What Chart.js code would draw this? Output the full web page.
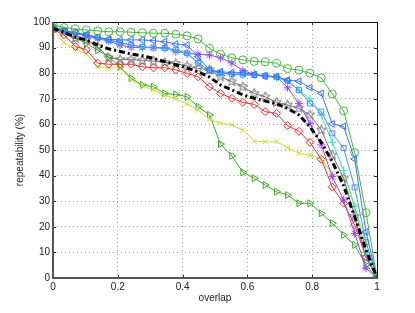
<!DOCTYPE html>
<html>
<head>
<meta charset="utf-8">
<script src="https://cdn.jsdelivr.net/npm/chart.js@4.4.1/dist/chart.umd.min.js"></script>
<style>
  body { margin: 0; background: #fff; }
  canvas { display: block; }
</style>
</head>
<body>
<canvas id="chart" width="415" height="313"></canvas>
<script>
// overlap thresholds (x) and repeatability (%) per detector
const overlap = [0, 0.034, 0.069, 0.103, 0.138, 0.172, 0.207, 0.241, 0.276, 0.310,
  0.345, 0.379, 0.414, 0.448, 0.483, 0.517, 0.552, 0.586, 0.621, 0.655,
  0.690, 0.724, 0.759, 0.793, 0.828, 0.862, 0.897, 0.931, 0.966, 1];

const avgLine = [97.5, 96, 94, 93, 91, 89.5, 88.5, 87.5, 86.8, 85.8, 84.5, 83.3, 82, 80.5, 78.5,
  75.4, 73.5, 71.5, 70.2, 69.1, 68, 66.3, 63.7, 59, 53, 45.5, 36, 24, 11, 0];
const greenCircle = [99, 97.8, 97.3, 96.9, 96.5, 96.2, 96.2, 96, 95.8, 95.6, 95.6, 95.2, 94.6, 93.4, 89.7,
  87.5, 86, 85.2, 84.6, 84.4, 83.9, 81.8, 81.2, 80, 78.2, 71.9, 65.3, 49, 25.5, 0];
const blueTri = [98, 96.5, 95.8, 95, 94, 93.2, 93, 93, 93, 92.7, 92.3, 91.4, 91, 86.4, 81.2,
  80.6, 80.2, 80.2, 79.5, 78.9, 78.6, 77.3, 76.9, 74.4, 72.1, 60.2, 59.2, 46.5, 18, 0];
const blueSquare = [97.5, 96.5, 96, 95, 94, 93, 92, 91, 90.3, 90, 89.8, 89.2, 87.8, 84, 81,
  80.2, 79.6, 79.5, 79.3, 79, 78.6, 77, 73.4, 68.2, 65, 56.5, 50.7, 35.4, 14, 0];
const cyanPlus = [97.5, 96.5, 95.8, 95, 93.8, 92.8, 91.8, 91, 90.2, 90, 89.6, 89, 87.5, 84, 81,
  80, 79.5, 79.3, 79.2, 78.8, 78.3, 76.8, 73.4, 70, 63.5, 53, 42, 28, 10, 0];
const purpleStar = [97.5, 96.5, 95.5, 94.5, 93.5, 92.5, 91, 90.1, 90, 90, 90, 88.4, 87.8, 87.4, 87.1,
  86, 84, 81, 79.6, 78.9, 78.6, 74.3, 68.2, 60.4, 52, 39.6, 30.5, 17.4, 3.8, 0];
const grayPenta = [97.5, 96, 93.6, 93, 90.4, 86, 85.4, 85.3, 85, 84.7, 84.2, 83.8, 82.8, 81.9, 81.3,
  78.6, 76.7, 74.7, 72.1, 70.8, 68.6, 67.6, 66.3, 63.7, 57.8, 48, 39, 24, 8, 0];
const redDiamond = [97, 95, 90.4, 89.2, 83.9, 83.5, 83.5, 83.5, 82.5, 82.1, 82.1, 81.3, 79.9, 78.6, 74.7,
  72.1, 70.2, 68.6, 67.8, 65, 64.3, 59.5, 57.3, 53, 46.4, 35.5, 29.2, 20.7, 8.3, 0];
const yellowX = [97, 92, 89.5, 87.5, 82.5, 82, 82, 77.5, 75, 73.5, 71.5, 70, 68, 65.5, 62,
  60.5, 59.8, 57.8, 53.5, 53.2, 53.2, 51, 48.7, 48, 46.4, 40.9, 38.5, 28, 14, 0];
const greenTri = [97.5, 96.9, 93.6, 91.7, 89, 86.4, 82.5, 78, 75.4, 74.7, 72.1, 71.7, 70.8, 66.9, 63.7,
  52.3, 47.7, 41.3, 39, 36.3, 33.7, 32.4, 29.2, 29.2, 25.3, 21.4, 16.8, 12.9, 5.1, 0];

function pts(vals) {
  return vals.map((v, i) => ({ x: overlap[i], y: v }));
}

// five-pointed star marker, Chart.js has none
function pentagram(color, r) {
  const c = document.createElement('canvas');
  const s = Math.ceil(r * 2 + 3);
  c.width = c.height = s;
  const g = c.getContext('2d');
  g.strokeStyle = color;
  g.lineWidth = 1;
  g.beginPath();
  for (let i = 0; i < 10; i++) {
    const rr = i % 2 ? r * 0.42 : r;
    const a = -Math.PI / 2 + i * Math.PI / 5;
    const px = s / 2 + rr * Math.cos(a), py = s / 2 + rr * Math.sin(a);
    if (i) g.lineTo(px, py); else g.moveTo(px, py);
  }
  g.closePath();
  g.stroke();
  return c;
}

function series(vals, color, style, extra) {
  return Object.assign({
    data: pts(vals),
    borderColor: color,
    borderWidth: 1,
    pointStyle: style,
    pointRadius: 4,
    pointBorderColor: color,
    pointBackgroundColor: 'rgba(0,0,0,0)',
    pointBorderWidth: 1,
    tension: 0
  }, extra || {});
}

// MATLAB style box with inward ticks
const frame = {
  id: 'frame',
  afterDraw(chart) {
    const { ctx, chartArea: a, scales } = chart;
    ctx.save();
    ctx.strokeStyle = '#222';
    ctx.lineWidth = 1;
    ctx.beginPath();
    scales.x.ticks.forEach(t => {
      const px = Math.round(scales.x.getPixelForValue(t.value)) + 0.5;
      ctx.moveTo(px, a.bottom); ctx.lineTo(px, a.bottom - 3);
      ctx.moveTo(px, a.top); ctx.lineTo(px, a.top + 3);
    });
    scales.y.ticks.forEach(t => {
      const py = Math.round(scales.y.getPixelForValue(t.value)) + 0.5;
      ctx.moveTo(a.left, py); ctx.lineTo(a.left + 3, py);
      ctx.moveTo(a.right, py); ctx.lineTo(a.right - 3, py);
    });
    ctx.stroke();
    ctx.beginPath();
    ctx.strokeStyle = '#111';
    ctx.moveTo(a.left, a.top + 0.5); ctx.lineTo(a.right + 0.5, a.top + 0.5);
    ctx.moveTo(a.right + 0.5, a.top); ctx.lineTo(a.right + 0.5, a.bottom);
    ctx.stroke();
    ctx.beginPath();
    ctx.strokeStyle = '#555';
    ctx.lineWidth = 2;
    ctx.moveTo(a.left, a.top); ctx.lineTo(a.left, a.bottom);
    ctx.lineTo(a.right + 1, a.bottom);
    ctx.stroke();
    ctx.restore();
  }
};

const font = { family: '"Liberation Sans", Arial, sans-serif', size: 10 };

new Chart(document.getElementById('chart'), {
  type: 'line',
  data: {
    datasets: [
      series(avgLine, '#000000', false, { borderWidth: 3, borderDash: [6, 3, 2, 3], pointRadius: 0 }),
      series(greenCircle, '#44b43c', 'circle'),
      series(blueTri, '#3470ff', 'triangle', { pointRotation: -90 }),
      series(blueSquare, '#4a8cff', 'rect', { pointRadius: 3.5 }),
      series(cyanPlus, '#30e0d0', 'cross'),
      series(purpleStar, '#a040ff', 'star'),
      series(grayPenta, '#6e6e6e', pentagram('#6e6e6e', 5)),
      series(redDiamond, '#ff2828', 'rectRot'),
      series(yellowX, '#c4e030', 'crossRot', { pointRadius: 3.5 }),
      series(greenTri, '#3caa28', 'triangle', { pointRotation: 90 })
    ]
  },
  options: {
    responsive: false,
    animation: false,
    layout: { padding: { top: 22, right: 38, left: 0, bottom: 0 } },
    plugins: { legend: { display: false }, tooltip: { enabled: false } },
    scales: {
      x: {
        type: 'linear',
        min: 0,
        max: 1,
        afterFit(s) { s.height = 35; },
        ticks: {
          stepSize: 0.2, color: '#222', font: font, padding: 3, maxRotation: 0,
          callback: v => String(Math.round(v * 10) / 10)
        },
        grid: { color: '#a0a0a0', drawTicks: false },
        border: { display: false, dash: [1, 3] },
        title: { display: true, text: 'overlap', color: '#222', font: font, padding: { top: 0, bottom: 9 } }
      },
      y: {
        min: 0,
        max: 100,
        afterFit(s) { s.width = 53; },
        ticks: { stepSize: 10, color: '#222', font: font, padding: 3 },
        grid: { color: '#a0a0a0', drawTicks: false },
        border: { display: false, dash: [1, 3] },
        title: { display: true, text: 'repeatability (%)', color: '#222', font: font, padding: { top: 14, bottom: 0 } }
      }
    }
  },
  plugins: [frame]
});
</script>
</body>
</html>
